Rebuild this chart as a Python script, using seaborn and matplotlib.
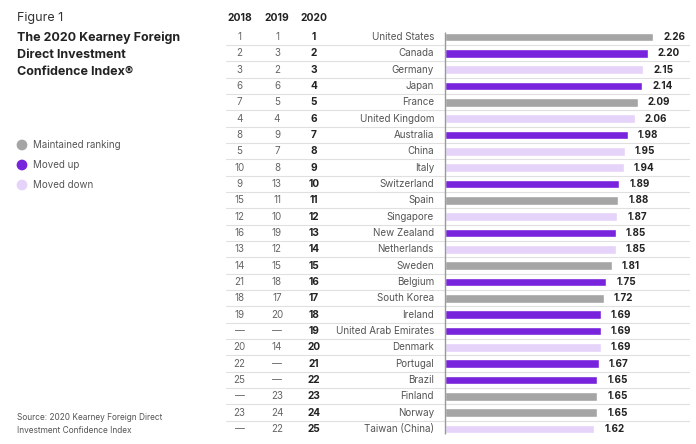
import matplotlib
matplotlib.use("Agg")
import matplotlib.pyplot as plt
import seaborn as sns
import pandas as pd

countries = ["United States", "Canada", "Germany", "Japan", "France", "United Kingdom",
             "Australia", "China", "Italy", "Switzerland", "Spain", "Singapore",
             "New Zealand", "Netherlands", "Sweden", "Belgium", "South Korea", "Ireland",
             "United Arab Emirates", "Denmark", "Portugal", "Brazil", "Finland", "Norway",
             "Taiwan (China)"]
scores = [2.26, 2.20, 2.15, 2.14, 2.09, 2.06, 1.98, 1.95, 1.94, 1.89, 1.88, 1.87,
          1.85, 1.85, 1.81, 1.75, 1.72, 1.69, 1.69, 1.69, 1.67, 1.65, 1.65, 1.65, 1.62]
rank2018 = ["1", "2", "3", "6", "7", "4", "8", "5", "10", "9", "15", "12", "16", "13",
            "14", "21", "18", "19", "—", "20", "22", "25", "—", "23", "—"]
rank2019 = ["1", "3", "2", "6", "5", "4", "9", "7", "8", "13", "11", "10", "19", "12",
            "15", "18", "17", "20", "—", "14", "—", "—", "23", "24", "22"]
rank2020 = [str(i) for i in range(1, 26)]
status = ["Maintained ranking", "Moved up", "Moved down", "Moved up", "Maintained ranking",
          "Moved down", "Moved up", "Moved down", "Moved down", "Moved up",
          "Maintained ranking", "Moved down", "Moved up", "Moved down", "Maintained ranking",
          "Moved up", "Maintained ranking", "Moved up", "Moved up", "Moved down",
          "Moved up", "Moved up", "Maintained ranking", "Maintained ranking", "Moved down"]
legend_labels = ["Maintained ranking", "Moved up", "Moved down"]
year_headers = ["2018", "2019", "2020"]

palette = {"Maintained ranking": "#A5A5A5", "Moved up": "#7823DC", "Moved down": "#E6D3FA"}

sns.set_theme(style="white")
plt.rcParams["font.family"] = ["Inter", "DejaVu Sans"]

df = pd.DataFrame({"country": countries, "score": scores, "status": status})

W, H = 696, 444
fig = plt.figure(figsize=(W / 100, H / 100), dpi=100)

# main table axes: spans px 226..690 horizontally, rows centred at 37 + 16.33*i
row0, step = 37.0, 16.333
top_px = row0 - step / 2
bot_px = row0 + 24 * step + step / 2
left_px, right_px = 226, 690
zero_px, ppu = 445, 92.2
ax = fig.add_axes([left_px / W, 1 - bot_px / H, (right_px - left_px) / W, (bot_px - top_px) / H])

sns.barplot(data=df, x="score", y="country", hue="status", palette=palette,
            dodge=False, orient="h", width=0.52, legend=False, ax=ax, saturation=1)

def px(x):
    return (x - zero_px) / ppu

ax.set_xlim(px(left_px), px(right_px))
ax.set_ylim(24.5, -0.5)
ax.set_axis_off()

for i in range(len(countries) - 1):
    ax.axhline(i + 0.5, color="#E0E0E0", lw=0.8, zorder=0)
ax.vlines(0, -0.3, 24.3, color="#9A9A9A", lw=1, zorder=3)

hdr_y = (18 - row0) / step
col_x = [px(239.5), px(277), px(314)]
for cx, h in zip(col_x, year_headers):
    ax.text(cx, hdr_y, h, ha="center", va="center", fontsize=7.4, fontweight="bold",
            color="#222222", clip_on=False)

for i in range(len(countries)):
    ax.text(col_x[0], i, rank2018[i], ha="center", va="center", fontsize=7.1, color="#666666")
    ax.text(col_x[1], i, rank2019[i], ha="center", va="center", fontsize=7.1, color="#666666")
    ax.text(col_x[2], i, rank2020[i], ha="center", va="center", fontsize=7.3,
            fontweight="bold", color="#222222")
    ax.text(px(434), i, countries[i], ha="right", va="center", fontsize=7.1, color="#555555")
    ax.text(scores[i] + 10 / ppu, i, f"{scores[i]:.2f}", ha="left", va="center",
            fontsize=7.1, fontweight="bold", color="#222222")

# left side annotations in pixel coordinates
ov = fig.add_axes([0, 0, 1, 1])
ov.set_xlim(0, W)
ov.set_ylim(H, 0)
ov.set_axis_off()
ov.patch.set_alpha(0)

ov.text(17, 18, "Figure 1", ha="left", va="center", fontsize=9, color="#333333")
for yy, line in zip([38, 55, 72], ["The 2020 Kearney Foreign", "Direct Investment",
                                   "Confidence Index®"]):
    ov.text(17, yy, line, ha="left", va="center", fontsize=9, fontweight="bold",
            color="#222222")

for yy, lab in zip([145, 165, 185], legend_labels):
    ov.scatter([22], [yy], s=60, color=palette[lab], edgecolor="none")
    ov.text(33, yy, lab, ha="left", va="center", fontsize=7, color="#555555")

ov.text(17, 417, "Source: 2020 Kearney Foreign Direct", ha="left", va="center",
        fontsize=6, color="#555555")
ov.text(17, 430, "Investment Confidence Index", ha="left", va="center",
        fontsize=6, color="#555555")

fig.savefig("out.png", dpi=100, facecolor="white")
